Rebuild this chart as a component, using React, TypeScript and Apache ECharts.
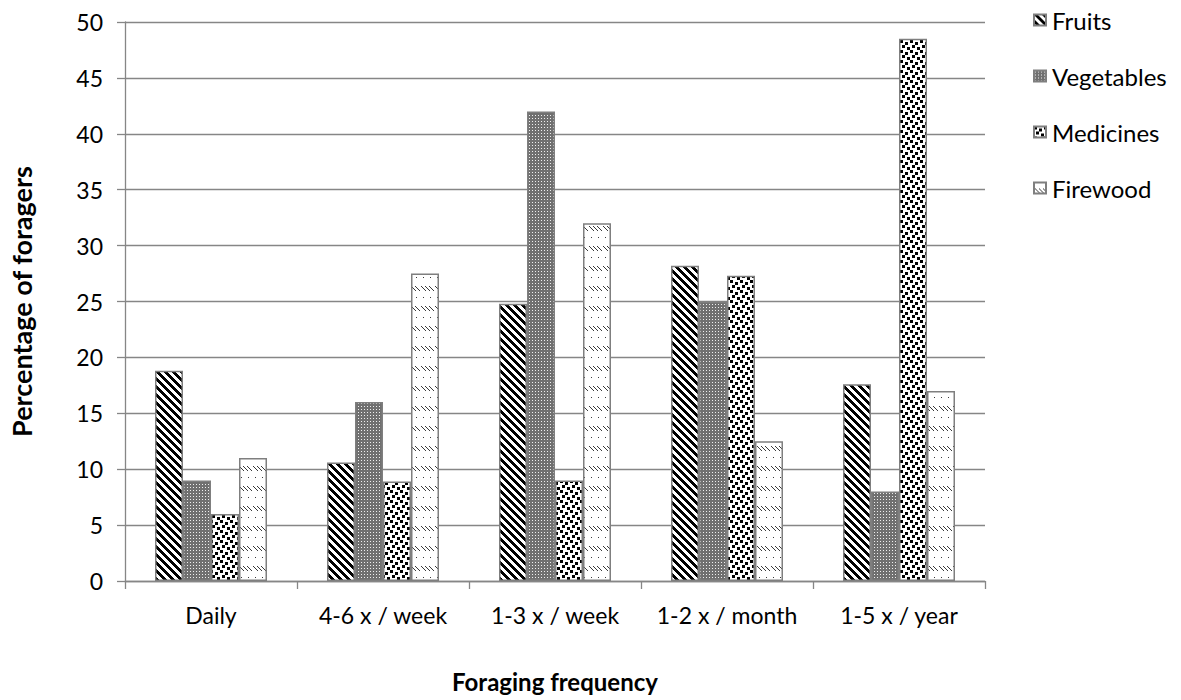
import React, { useEffect, useRef } from "react";
import * as echarts from "echarts";

const categories = ["Daily", "4-6 x / week", "1-3 x / week", "1-2 x / month", "1-5 x / year"];
const seriesNames = ["Fruits", "Vegetables", "Medicines", "Firewood"];
const fruits = [18.8, 10.6, 24.8, 28.2, 17.6];
const vegetables = [9, 16, 42, 25, 8];
const medicines = [6, 8.9, 9, 27.3, 48.5];
const firewood = [11, 27.5, 32, 12.5, 17];
const yTicks = { min: 0, max: 50, interval: 5 };

function makeTile(w: number, h: number, draw: (ctx: CanvasRenderingContext2D) => void) {
  const c = document.createElement("canvas");
  c.width = w;
  c.height = h;
  const ctx = c.getContext("2d")!;
  draw(ctx);
  return c;
}

function patterns() {
  const stripes = makeTile(8, 8, (ctx) => {
    ctx.fillStyle = "#ffffff";
    ctx.fillRect(0, 0, 8, 8);
    ctx.fillStyle = "#000000";
    for (let y = 0; y < 8; y++) {
      for (let x = 0; x < 8; x++) {
        if ((((x - y) % 8) + 8) % 8 < 4) ctx.fillRect(x, y, 1, 1);
      }
    }
  });
  const checker = makeTile(3, 3, (ctx) => {
    ctx.fillStyle = "#707070";
    ctx.fillRect(0, 0, 3, 3);
    ctx.fillStyle = "#efefef";
    ctx.fillRect(1, 1, 1, 1);
  });
  const dots = makeTile(10, 10, (ctx) => {
    ctx.fillStyle = "#ffffff";
    ctx.fillRect(0, 0, 10, 10);
    ctx.fillStyle = "#000000";
    const pts = [
      [0, 0],
      [5, 2],
      [2, 5],
      [7, 7],
    ];
    for (const [x, y] of pts) ctx.fillRect(x, y, 3, 3);
  });
  const dashes = makeTile(14, 20, (ctx) => {
    ctx.fillStyle = "#ffffff";
    ctx.fillRect(0, 0, 14, 20);
    ctx.fillStyle = "#3a3a3a";
    for (let k = 0; k < 3; k++) {
      for (let s = 0; s < 5; s++) {
        ctx.fillRect(1 + k * 4 + s, 6 + s, 1, 1);
      }
    }
    ctx.fillRect(3, 17, 1, 1);
    ctx.fillRect(10, 17, 1, 1);
  });
  return [stripes, checker, dots, dashes];
}

export default function App() {
  const ref = useRef<HTMLDivElement>(null);
  useEffect(() => {
    if (!ref.current) return;
    const chart = echarts.init(ref.current, undefined, { renderer: "svg" });
    const pats = patterns();
    const data = [fruits, vegetables, medicines, firewood];
    const font = "Lato, 'Open Sans', sans-serif";
    chart.setOption({
      animation: false,
      backgroundColor: "#ffffff",
      grid: { left: 124, top: 22, right: 196, bottom: 119, containLabel: false },
      legend: {
        orient: "vertical",
        left: 1028,
        top: 3,
        itemWidth: 12,
        itemHeight: 11,
        itemGap: 32,
        icon: "rect",
        textStyle: { fontFamily: font, fontSize: 24, color: "#000", padding: [0, 0, 0, 1] },
        data: seriesNames,
      },
      xAxis: {
        type: "category",
        data: categories,
        name: "Foraging frequency",
        nameLocation: "middle",
        nameGap: 88,
        nameTextStyle: { fontFamily: font, fontSize: 24, fontWeight: "bold", color: "#000" },
        axisLine: { lineStyle: { color: "#868686", width: 1.3 } },
        axisTick: { show: true, length: 8, lineStyle: { color: "#868686", width: 1.3 } },
        axisLabel: { interval: 0, fontFamily: font, fontSize: 23, color: "#000", margin: 22 },
      },
      yAxis: {
        type: "value",
        min: yTicks.min,
        max: yTicks.max,
        interval: yTicks.interval,
        name: "Percentage of foragers",
        nameLocation: "middle",
        nameGap: 90,
        nameTextStyle: { fontFamily: font, fontSize: 27, fontWeight: "bold", color: "#000" },
        axisLine: { show: true, lineStyle: { color: "#868686", width: 1.3 } },
        axisTick: { show: true, length: 8, lineStyle: { color: "#868686", width: 1.3 } },
        axisLabel: { fontFamily: font, fontSize: 23, color: "#000", margin: 22 },
        splitLine: { lineStyle: { color: "#868686", width: 1.3 } },
      },
      series: seriesNames.map((name, i) => ({
        name,
        type: "bar",
        data: data[i],
        barWidth: 28,
        barGap: "0%",
        itemStyle: {
          color: { image: pats[i], repeat: "repeat" },
          borderColor: "#7f7f7f",
          borderWidth: 1.5,
        },
      })),
    });
    return () => chart.dispose();
  }, []);
  return (
    <div
      ref={ref}
      style={{ position: "absolute", left: 0, top: 0, width: 1181, height: 700 }}
    />
  );
}
